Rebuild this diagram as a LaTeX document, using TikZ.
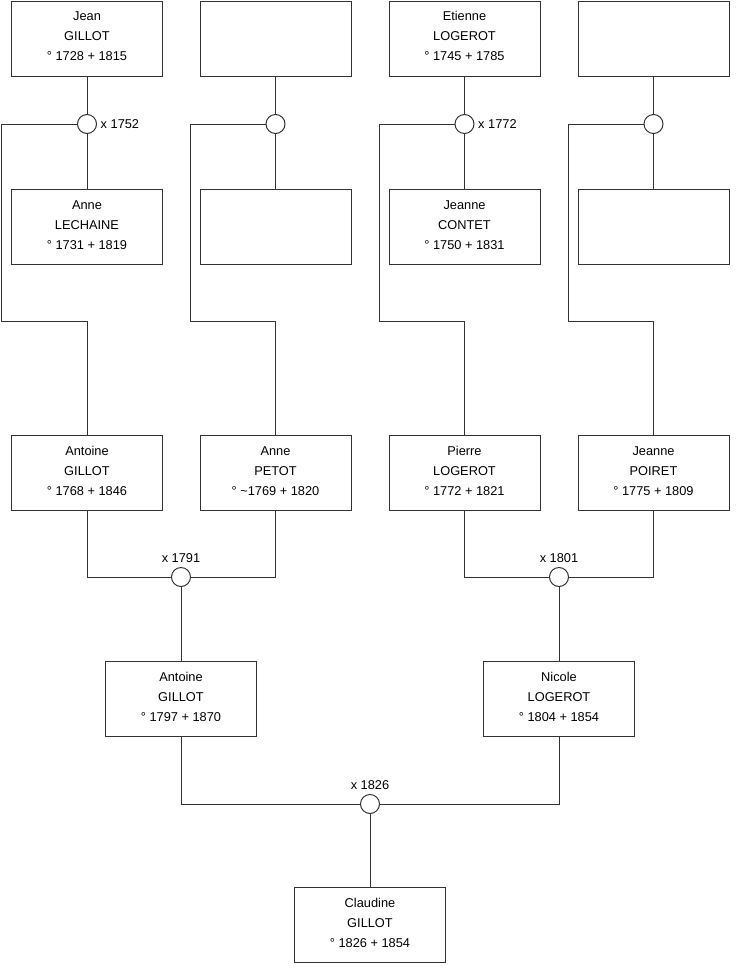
\documentclass[tikz,border=0pt]{standalone}
\usepackage{fontspec}
\setmainfont{Liberation Sans}
\begin{document}
\begin{tikzpicture}[x=1pt,y=-1pt,
  person/.style={draw=black!80,line width=1pt,minimum width=151pt,minimum height=75pt,inner sep=0pt,align=center,text depth=4.5pt,font=\fontsize{12.8}{20}\selectfont},
  marr/.style={draw=black!80,line width=1pt,circle,minimum size=19pt,inner sep=0pt,fill=white},
  link/.style={draw=black!80,line width=1pt},
  lbl/.style={font=\fontsize{12.8}{14}\selectfont,inner sep=1pt}]
\useasboundingbox (0,0) rectangle (740,975);
% top row
\node[person] (p1) at (87,38.5) {Jean\\GILLOT\\° 1728 + 1815};
\node[person] (p2) at (275.5,38.5) {};
\node[person] (p3) at (464.5,38.5) {Etienne\\LOGEROT\\° 1745 + 1785};
\node[person] (p4) at (653.5,38.5) {};
% second row
\node[person] (q1) at (87,227) {Anne\\LECHAINE\\° 1731 + 1819};
\node[person] (q2) at (275.5,227) {};
\node[person] (q3) at (464.5,227) {Jeanne\\CONTET\\° 1750 + 1831};
\node[person] (q4) at (653.5,227) {};
% third row
\node[person] (r1) at (87,473) {Antoine\\GILLOT\\° 1768 + 1846};
\node[person] (r2) at (275.5,473) {Anne\\PETOT\\° \textasciitilde1769 + 1820};
\node[person] (r3) at (464.5,473) {Pierre\\LOGEROT\\° 1772 + 1821};
\node[person] (r4) at (653.5,473) {Jeanne\\POIRET\\° 1775 + 1809};
% fourth row
\node[person] (s1) at (181,699) {Antoine\\GILLOT\\° 1797 + 1870};
\node[person] (s2) at (559,699) {Nicole\\LOGEROT\\° 1804 + 1854};
% fifth
\node[person] (t1) at (370,925) {Claudine\\GILLOT\\° 1826 + 1854};
% marriage circles
\node[marr] (m1) at (87,124) {};
\node[marr] (m2) at (275.5,124) {};
\node[marr] (m3) at (464.5,124) {};
\node[marr] (m4) at (653.5,124) {};
\node[marr] (m5) at (181,577) {};
\node[marr] (m6) at (559,577) {};
\node[marr] (m7) at (370,804) {};
% labels
\node[lbl,anchor=west] at ([xshift=2.5pt]m1.east) {x 1752};
\node[lbl,anchor=west] at ([xshift=2.5pt]m3.east) {x 1772};
\node[lbl,anchor=south] at ([yshift=3pt]m5.north) {x 1791};
\node[lbl,anchor=south] at ([yshift=3pt]m6.north) {x 1801};
\node[lbl,anchor=south] at ([yshift=3pt]m7.north) {x 1826};
% top families
\draw[link] (p1) -- (m1) -- (q1);
\draw[link] (p2) -- (m2) -- (q2);
\draw[link] (p3) -- (m3) -- (q3);
\draw[link] (p4) -- (m4) -- (q4);
\draw[link] (m1.west) -- (1.5,124) -- (1.5,321) -| (r1.north);
\draw[link] (m2.west) -- (190.5,124) -- (190.5,321) -| (r2.north);
\draw[link] (m3.west) -- (379.5,124) -- (379.5,321) -| (r3.north);
\draw[link] (m4.west) -- (568.5,124) -- (568.5,321) -| (r4.north);
% middle families
\draw[link] (r1.south) |- (m5.west);
\draw[link] (r2.south) |- (m5.east);
\draw[link] (m5) -- (s1);
\draw[link] (r3.south) |- (m6.west);
\draw[link] (r4.south) |- (m6.east);
\draw[link] (m6) -- (s2);
% bottom
\draw[link] (s1.south) |- (m7.west);
\draw[link] (s2.south) |- (m7.east);
\draw[link] (m7) -- (t1);
\end{tikzpicture}
\end{document}
